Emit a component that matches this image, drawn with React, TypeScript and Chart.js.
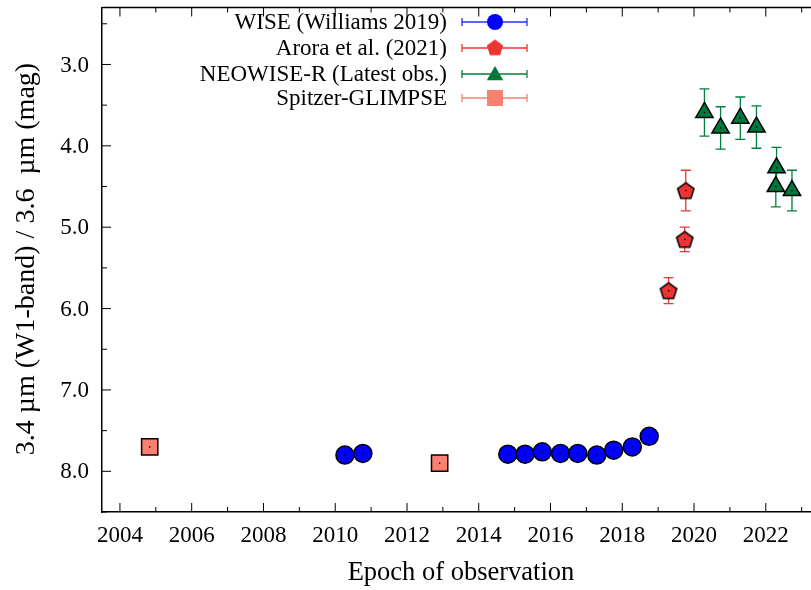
import React, { useEffect, useRef } from "react";
import { Chart, registerables } from "chart.js";

Chart.register(...registerables);

// ---- data ----
const wiseYears = [2010.27, 2010.77, 2014.81, 2015.29, 2015.77, 2016.28, 2016.76, 2017.29, 2017.76, 2018.28, 2018.75];
const wiseMag = [7.80, 7.78, 7.79, 7.79, 7.76, 7.78, 7.78, 7.80, 7.74, 7.70, 7.57];
const wiseErr = [0.03, 0.03, 0.03, 0.03, 0.03, 0.03, 0.03, 0.03, 0.03, 0.03, 0.03];

const aroraYears = [2019.29, 2019.74, 2019.77];
const aroraMag = [5.78, 5.15, 4.55];
const aroraErr = [0.16, 0.15, 0.25];

const neoYears = [2020.29, 2020.74, 2021.29, 2021.74, 2022.30, 2022.28, 2022.73];
const neoMag = [3.59, 3.78, 3.66, 3.77, 4.27, 4.50, 4.55];
const neoErr = [0.29, 0.26, 0.26, 0.26, 0.25, 0.25, 0.25];

const spitzerYears = [2004.83, 2012.91];
const spitzerMag = [7.70, 7.90];
const spitzerErr = [0.03, 0.03];

const xTickLabels = [2004, 2006, 2008, 2010, 2012, 2014, 2016, 2018, 2020, 2022];
const yTickLabels = [3, 4, 5, 6, 7, 8];

const seriesLabels = ["WISE (Williams 2019)", "Arora et al. (2021)", "NEOWISE-R (Latest obs.)", "Spitzer-GLIMPSE"];
const xTitle = "Epoch of observation";
const yTitle = "3.4 \u00b5m (W1-band) / 3.6  \u00b5m (mag)";

const FONT = "'Liberation Serif', 'Times New Roman', serif";

const COLORS = {
  wise: "#0000ff",
  arora: "#ee3333",
  neo: "#00783c",
  spitzer: "#fa8072",
};
const ERRCOLORS = ["#2233ff", "#ee3333", "#00803c", "#f48070"];

function makePentagon(fill: string, stroke: boolean): HTMLCanvasElement {
  const size = 24;
  const c = document.createElement("canvas");
  c.width = size;
  c.height = size;
  const ctx = c.getContext("2d")!;
  const r = 8.6;
  const cx = size / 2;
  const cy = size / 2 + 0.7;
  ctx.beginPath();
  for (let i = 0; i < 5; i++) {
    const a = -Math.PI / 2 + (i * 2 * Math.PI) / 5;
    const px = cx + r * Math.cos(a);
    const py = cy + r * Math.sin(a);
    if (i === 0) ctx.moveTo(px, py);
    else ctx.lineTo(px, py);
  }
  ctx.closePath();
  ctx.fillStyle = fill;
  ctx.fill();
  if (stroke) {
    ctx.lineWidth = 1.5;
    ctx.strokeStyle = "#000";
    ctx.stroke();
  }
  return c;
}

export default function App() {
  const ref = useRef<HTMLCanvasElement | null>(null);

  useEffect(() => {
    if (!ref.current) return;
    const pent = makePentagon(COLORS.arora, true);
    const pentLegend = makePentagon(COLORS.arora, false);

    const errs = [wiseErr, aroraErr, neoErr, spitzerErr];

    const errorBars = {
      id: "errorBars",
      beforeDatasetsDraw(chart: any) {
        const ctx = chart.ctx;
        const ys = chart.scales.y;
        ctx.save();
        chart.data.datasets.forEach((ds: any, di: number) => {
          const meta = chart.getDatasetMeta(di);
          const e = errs[di];
          ctx.strokeStyle = ERRCOLORS[di];
          ctx.lineWidth = 1.3;
          meta.data.forEach((pt: any, i: number) => {
            const v = ds.data[i].y;
            const y1 = ys.getPixelForValue(v - e[i]);
            const y2 = ys.getPixelForValue(v + e[i]);
            const x = pt.x;
            ctx.beginPath();
            ctx.moveTo(x, y1);
            ctx.lineTo(x, y2);
            ctx.moveTo(x - 5, y1);
            ctx.lineTo(x + 5, y1);
            ctx.moveTo(x - 5, y2);
            ctx.lineTo(x + 5, y2);
            ctx.stroke();
          });
        });
        ctx.restore();
      },
      afterDatasetsDraw(chart: any) {
        const ctx = chart.ctx;
        ctx.save();
        ctx.fillStyle = "#000";
        chart.data.datasets.forEach((_ds: any, di: number) => {
          const meta = chart.getDatasetMeta(di);
          meta.data.forEach((pt: any) => {
            ctx.fillRect(pt.x - 0.7, pt.y - 0.7, 1.4, 1.4);
          });
        });
        ctx.restore();
      },
    };

    const frame = {
      id: "frame",
      afterDraw(chart: any) {
        const ctx = chart.ctx;
        const xs = chart.scales.x;
        const ys = chart.scales.y;
        const a = chart.chartArea;
        ctx.save();
        ctx.strokeStyle = "#000";
        ctx.lineWidth = 1.5;
        ctx.beginPath();
        ctx.moveTo(a.left, a.top);
        ctx.lineTo(a.right, a.top);
        ctx.stroke();
        ctx.lineWidth = 1;
        ctx.beginPath();
        for (let yr = 2004; yr <= 2023; yr++) {
          const px = xs.getPixelForValue(yr);
          const len = yr % 2 === 0 ? 9 : 5;
          ctx.moveTo(px, a.bottom);
          ctx.lineTo(px, a.bottom - len);
          ctx.moveTo(px, a.top);
          ctx.lineTo(px, a.top + len);
        }
        for (let m = 2.5; m <= 8.5; m += 0.5) {
          const py = ys.getPixelForValue(m);
          const len = Number.isInteger(m) ? 9 : 5;
          ctx.moveTo(a.left, py);
          ctx.lineTo(a.left + len, py);
        }
        ctx.stroke();

        // tick labels
        ctx.fillStyle = "#000";
        ctx.font = `23px ${FONT}`;
        ctx.textAlign = "center";
        ctx.textBaseline = "middle";
        xTickLabels.forEach((yr) => {
          ctx.fillText(String(yr), xs.getPixelForValue(yr), a.bottom + 24);
        });
        ctx.textAlign = "right";
        yTickLabels.forEach((m) => {
          ctx.fillText(m.toFixed(1), a.left - 13, ys.getPixelForValue(m) + 1);
        });

        // axis titles
        ctx.font = `26.5px ${FONT}`;
        ctx.textAlign = "center";
        ctx.textBaseline = "middle";
        ctx.fillText(xTitle, 461, 573);
        ctx.save();
        ctx.font = `28px ${FONT}`;
        ctx.translate(27, 259);
        ctx.rotate(-Math.PI / 2);
        ctx.fillText(yTitle, 0, 0);
        ctx.restore();

        // legend
        const rows = [22, 48, 74, 98];
        ctx.font = `23px ${FONT}`;
        ctx.textAlign = "right";
        rows.forEach((ry, i) => {
          ctx.fillStyle = "#000";
          ctx.fillText(seriesLabels[i], 447, ry + 1);
          ctx.strokeStyle = ERRCOLORS[i];
          ctx.lineWidth = 1.3;
          ctx.beginPath();
          ctx.moveTo(462, ry);
          ctx.lineTo(527, ry);
          ctx.moveTo(462, ry - 4);
          ctx.lineTo(462, ry + 4);
          ctx.moveTo(527, ry - 4);
          ctx.lineTo(527, ry + 4);
          ctx.stroke();
          const mx = 495;
          if (i === 0) {
            ctx.fillStyle = COLORS.wise;
            ctx.beginPath();
            ctx.arc(mx, ry, 8, 0, Math.PI * 2);
            ctx.fill();
          } else if (i === 1) {
            ctx.drawImage(pentLegend, mx - 12, ry - 12.5, 24, 24);
          } else if (i === 2) {
            ctx.fillStyle = COLORS.neo;
            const r = 9.5;
            ctx.beginPath();
            ctx.moveTo(mx, ry - r + 1.5);
            ctx.lineTo(mx + r * 0.866, ry + r * 0.5 + 1.5);
            ctx.lineTo(mx - r * 0.866, ry + r * 0.5 + 1.5);
            ctx.closePath();
            ctx.fill();
          } else {
            ctx.fillStyle = COLORS.spitzer;
            ctx.fillRect(mx - 8, ry - 8, 16, 16);
          }
        });
        ctx.restore();
      },
    };

    const toPts = (xs: number[], ys: number[]) => xs.map((x, i) => ({ x, y: ys[i] }));

    const chart = new Chart(ref.current, {
      type: "scatter",
      data: {
        datasets: [
          {
            label: seriesLabels[0],
            data: toPts(wiseYears, wiseMag),
            pointStyle: "circle",
            pointRadius: 9,
            backgroundColor: COLORS.wise,
            borderColor: "#000",
            borderWidth: 1.5,
          },
          {
            label: seriesLabels[1],
            data: toPts(aroraYears, aroraMag),
            pointStyle: pent as any,
            pointRadius: 12,
            backgroundColor: COLORS.arora,
            borderColor: "#000",
          },
          {
            label: seriesLabels[2],
            data: toPts(neoYears, neoMag),
            pointStyle: "triangle",
            pointRadius: 10,
            backgroundColor: COLORS.neo,
            borderColor: "#000",
            borderWidth: 1.5,
          },
          {
            label: seriesLabels[3],
            data: toPts(spitzerYears, spitzerMag),
            pointStyle: "rect",
            pointRadius: 11.5,
            backgroundColor: COLORS.spitzer,
            borderColor: "#000",
            borderWidth: 1.5,
          },
        ],
      },
      options: {
        animation: false,
        responsive: false,
        events: [],
        layout: { autoPadding: false, padding: { top: 7.5, right: 0, left: 0, bottom: 0 } },
        plugins: {
          legend: { display: false },
          tooltip: { enabled: false },
        },
        scales: {
          x: {
            type: "linear",
            min: 2003.5,
            max: 2023.26,
            grid: { display: false, drawTicks: false },
            border: { display: true, color: "#000", width: 1.5 },
            ticks: { display: false, stepSize: 2, includeBounds: false },
            afterFit: (s: any) => {
              s.height = 78;
            },
          },
          y: {
            type: "linear",
            reverse: true,
            min: 2.3,
            max: 8.5,
            grid: { display: false, drawTicks: false },
            border: { display: true, color: "#000", width: 1.5 },
            ticks: { display: false, stepSize: 1, includeBounds: false },
            afterFit: (s: any) => {
              s.width = 102;
            },
          },
        },
      },
      plugins: [errorBars, frame],
    });
    return () => chart.destroy();
  }, []);

  return (
    <div style={{ position: "absolute", left: 0, top: 0, width: 811, height: 590, background: "#fff" }}>
      <canvas ref={ref} width={811} height={590} style={{ width: 811, height: 590, display: "block" }} />
    </div>
  );
}
